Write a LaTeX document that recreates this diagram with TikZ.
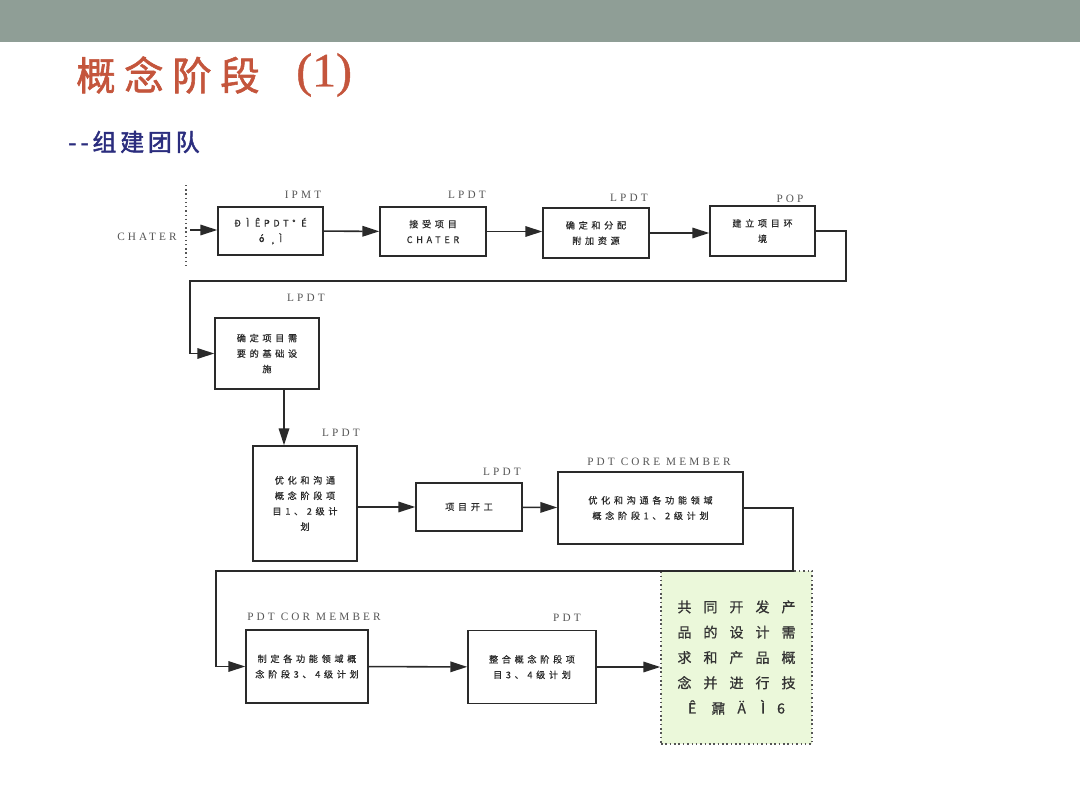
\documentclass[tikz,border=0pt]{standalone}
\usepackage{fontspec}
\setmainfont{Liberation Serif}
\newfontfamily\boxfont[LetterSpace=40,FakeBold=0.6]{Noto Sans CJK SC}
\newfontfamily\bigfont[LetterSpace=85,FakeBold=0.8]{Noto Sans CJK SC}
\newfontfamily\titlefont[LetterSpace=22,FakeBold=1.5]{Noto Sans CJK SC}
\newfontfamily\numfont[FakeBold=1]{Liberation Serif}
\newfontfamily\subfont[LetterSpace=16,FakeBold=2]{Noto Sans CJK SC}
\newfontfamily\lblfont[LetterSpace=28]{Liberation Serif}
\usetikzlibrary{arrows.meta}
\definecolor{barcol}{HTML}{8F9E96}
\definecolor{titlecol}{HTML}{C4553C}
\definecolor{subcol}{HTML}{2B2D7E}
\definecolor{linecol}{HTML}{2A2A2A}
\definecolor{lblcol}{HTML}{555555}
\definecolor{greencol}{HTML}{EBF8DA}
\tikzset{
  stepbox/.style={draw=linecol, line width=1.1pt, inner sep=0pt, align=center,
    font=\boxfont\fontsize{6.5}{11}\selectfont, text=linecol},
  lbl/.style={font=\lblfont\fontsize{8}{9}\selectfont, text=lblcol, inner sep=0pt},
  conn/.style={draw=linecol, line width=1.1pt}
}
\begin{document}
\begin{tikzpicture}[x=0.025cm, y=-0.025cm, >={Triangle[length=12pt,width=7.5pt]}]
  \useasboundingbox (0,0) rectangle (1080,808);
  % Top bar
  \fill[barcol] (0,0) rectangle (1080,42);
  % Title
  \node[anchor=west, text=titlecol, font=\titlefont\fontsize{28}{30}\selectfont, inner sep=0pt] (title) at (76,75) {概念阶段};
  \node[anchor=west, text=titlecol, font=\numfont\fontsize{34}{36}\selectfont, inner sep=0pt] (num) at (296,75) {(1)};
  \node[anchor=west, text=subcol, font=\subfont\fontsize{17}{19}\selectfont, inner sep=0pt] (sub) at (68,142) {--组建团队};

  % Start
  \node[lbl] (chater) at (147,237) {CHATER};
  \draw[lblcol, dotted, line width=1pt] (186,185) -- (186,266);
  \coordinate (s0) at (190,230);

  % Row 1
  \node[stepbox, minimum width=105*0.025cm, minimum height=48*0.025cm] (b1) at (270.5,231) {Ð Ì ÊPDT° É\\ó ¸Ì};
  \node[lbl] (l1) at (303,195) {IPMT};
  \node[stepbox, minimum width=106*0.025cm, minimum height=49*0.025cm] (b2) at (433,231.5) {接受项目\\CHATER};
  \node[lbl] (l2) at (467,195) {LPDT};
  \node[stepbox, minimum width=106*0.025cm, minimum height=50*0.025cm] (b3) at (596,233) {确定和分配\\附加资源};
  \node[lbl] (l3) at (629,198) {LPDT};
  \node[stepbox, minimum width=105*0.025cm, minimum height=50*0.025cm] (b4) at (762.5,231) {建立项目环\\境};
  \node[lbl] (l4) at (790,199) {POP};

  % Row 2
  \node[stepbox, minimum width=104*0.025cm, minimum height=71*0.025cm] (b5) at (267,353.5) {确定项目需\\要的基础设\\施};
  \node[lbl] (l5) at (306,298) {LPDT};

  % Row 3
  \node[stepbox, minimum width=104*0.025cm, minimum height=115*0.025cm] (b6) at (305,503.5) {优化和沟通\\概念阶段项\\目1、2级计\\划};
  \node[lbl] (l6) at (341,433) {LPDT};
  \node[stepbox, minimum width=106*0.025cm, minimum height=48*0.025cm] (b7) at (469,507) {项目开工};
  \node[lbl] (l7) at (502,472) {LPDT};
  \node[stepbox, minimum width=185*0.025cm, minimum height=72*0.025cm] (b8) at (650.5,508) {优化和沟通各功能领域\\概念阶段1、2级计划};
  \node[lbl] (l8) at (659,462) {PDT CORE MEMBER};

  % Row 4
  \node[stepbox, draw=lblcol, dotted, fill=greencol, minimum width=151*0.025cm, minimum height=173*0.025cm,
    font=\bigfont\fontsize{10}{18}\selectfont, text=black!80] (g) at (736.5,657.5) {共同开发产\\品的设计需\\求和产品概\\念并进行技\\Ê 鼐Ä Ì6};
  \node[stepbox, minimum width=122*0.025cm, minimum height=73*0.025cm] (b9) at (307,666.5) {制定各功能领域概\\念阶段3、4级计划};
  \node[lbl] (l9) at (314,617) {PDT COR MEMBER};
  \node[stepbox, minimum width=128*0.025cm, minimum height=73*0.025cm] (b10) at (532,667) {整合概念阶段项\\目3、4级计划};
  \node[lbl] (l10) at (567,618) {PDT};

  % Turning points
  \coordinate (t1) at (846,281);
  \coordinate (t2) at (190,281);
  \coordinate (t3) at (793,571);
  \coordinate (t4) at (216,571);

  % Connectors
  \draw[conn, ->] (s0) -- (s0 -| b1.west);
  \draw[conn, ->] (b1) -- (b2);
  \draw[conn, ->] (b2.east) -- (b2.east -| b3.west);
  \draw[conn, ->] (b3.east) -- (b3.east -| b4.west);
  \draw[conn, ->] (b4.east) -| (t1) -- (t2) |- (b5.west);
  \draw[conn, ->] ([xshift=0.425cm]b5.south) -- ([xshift=0.425cm]b5.south |- b6.north);
  \draw[conn, ->] (b6.east |- b7) -- (b7.west);
  \draw[conn, ->] (b7) -- (b8);
  \draw[conn, ->] (b8.east) -| (t3) -- (t4) |- (b9.west);
  \draw[conn, ->] (b9) -- (b10);
  \draw[conn, ->] (b10.east) -- (b10.east -| g.west);
\end{tikzpicture}
\end{document}
